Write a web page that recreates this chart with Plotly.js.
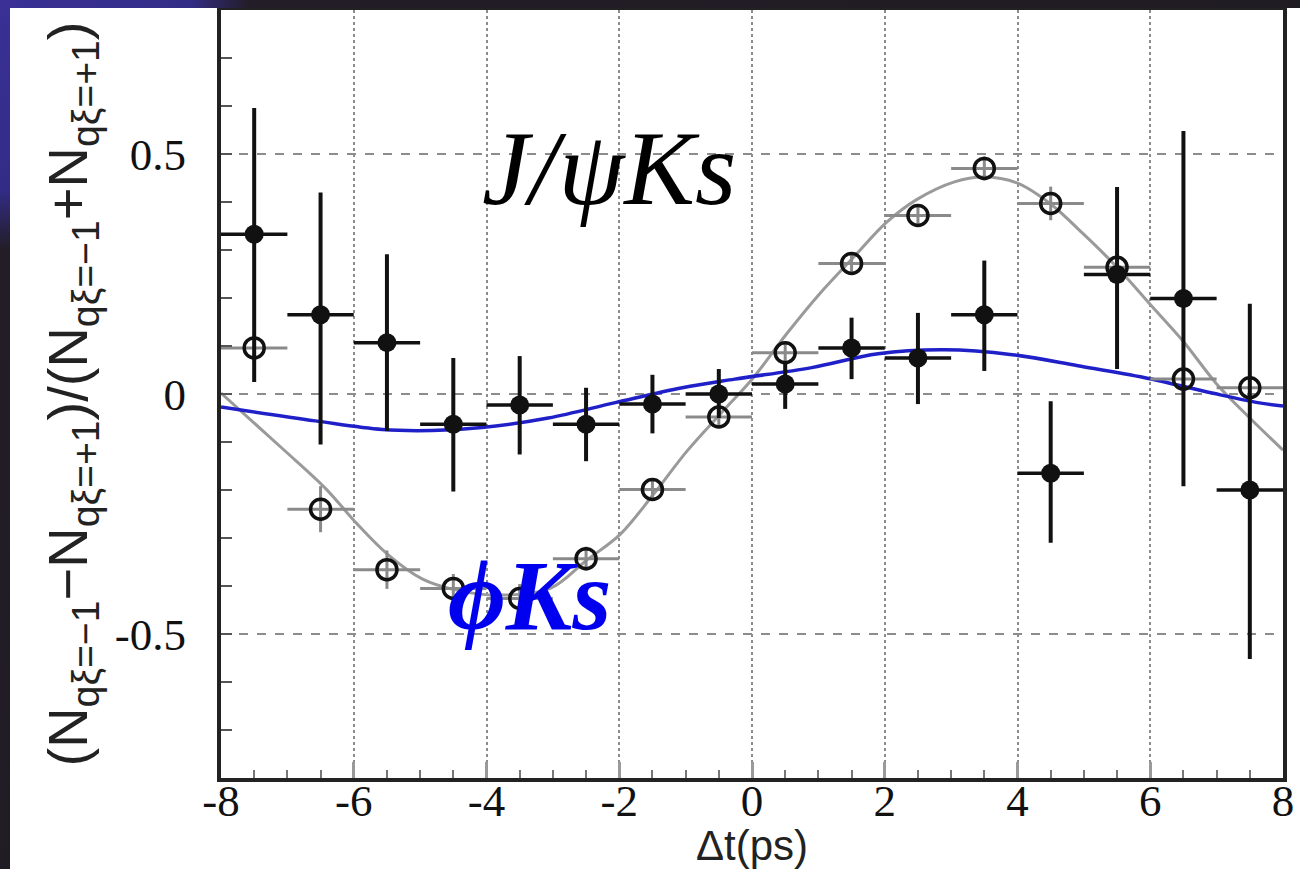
<!DOCTYPE html>
<html>
<head>
<meta charset="utf-8">
<script src="https://cdn.plot.ly/plotly-3.0.1.min.js"></script>
<style>
  html, body { margin:0; padding:0; width:1300px; height:869px; overflow:hidden;
    background: radial-gradient(circle at 0 0, #3a3096 0px, #332c86 190px, #221d26 250px, #1f1b22 100%); }
  #chart { position:absolute; left:10px; top:8px; width:1290px; height:861px; background:#fff; }
</style>
</head>
<body>
<div id="chart"></div>
<script>
// bin centres (Δt, ps)
const binX = [-7.5,-6.5,-5.5,-4.5,-3.5,-2.5,-1.5,-0.5,0.5,1.5,2.5,3.5,4.5,5.5,6.5,7.5];
const binHalfWidth = [0.5,0.5,0.5,0.5,0.5,0.5,0.5,0.5,0.5,0.5,0.5,0.5,0.5,0.5,0.5,0.5];

// φKs (filled points)
const phiY        = [0.333,0.165,0.107,-0.063,-0.023,-0.063,-0.021,0.000,0.021,0.096,0.075,0.165,-0.165,0.249,0.199,-0.200];
const phiErrUp    = [0.263,0.255,0.184,0.138,0.102,0.076,0.061,0.052,0.048,0.063,0.094,0.113,0.150,0.182,0.349,0.388];
const phiErrDown  = [0.308,0.270,0.184,0.140,0.103,0.077,0.061,0.050,0.052,0.065,0.096,0.117,0.145,0.197,0.391,0.352];

// J/ψKs (open points)
const psiY   = [0.096,-0.240,-0.366,-0.405,-0.426,-0.343,-0.199,-0.048,0.086,0.272,0.372,0.470,0.397,0.264,0.031,0.013];
const psiErr = [0.030,0.048,0.040,0.030,0.030,0.025,0.022,0.020,0.020,0.020,0.022,0.025,0.035,0.030,0.030,0.030];

// J/ψKs fit curve (grey)
const psiFitX = [-8,-7.08,-6.43,-5.98,-5.48,-4.97,-4.47,-3.83,-3.04,-2.49,-1.99,-1.49,-0.98,-0.48,0.02,0.52,1.02,1.53,2.03,2.48,3.05,3.48,3.99,4.49,4.98,5.5,5.99,6.49,7.0,7.5,8.0];
const psiFitY = [0.002,-0.113,-0.196,-0.266,-0.335,-0.385,-0.408,-0.419,-0.405,-0.346,-0.293,-0.210,-0.119,-0.042,0.034,0.125,0.209,0.285,0.358,0.405,0.442,0.452,0.440,0.397,0.335,0.264,0.188,0.111,0.021,-0.050,-0.117];

// φKs fit curve (blue)
const phiFitX = [-8,-6.58,-5.57,-4.82,-4.07,-3.07,-2.06,-1.05,-0.26,0.9,1.9,2.9,3.92,4.91,5.92,6.93,7.62,8];
const phiFitY = [-0.027,-0.056,-0.074,-0.076,-0.070,-0.050,-0.018,0.013,0.031,0.055,0.084,0.092,0.082,0.059,0.034,0.002,-0.018,-0.025];

const xTickVals = [-8,-6,-4,-2,0,2,4,6,8];
const xTickText = ['-8','-6','-4','-2','0','2','4','6','8'];
const yTickVals = [-0.5,0,0.5];
const yTickText = ['-0.5','0','0.5'];

const labelPsi = '<i>J/ψKs</i>';
const labelPhi = '<b><i>ϕKs</i></b>';
const yTitle = '(N<sub>qξ=−1</sub>−N<sub>qξ=+1</sub>)/(N<sub>qξ=−1</sub>+N<sub>qξ=+1</sub>)';
const xTitle = 'Δt(ps)';

const traces = [
  { x: psiFitX, y: psiFitY, type:'scatter', mode:'lines',
    line:{color:'#9a9a9a', width:3, shape:'spline', smoothing:1}, hoverinfo:'skip' },
  { x: phiFitX, y: phiFitY, type:'scatter', mode:'lines',
    line:{color:'#2020c8', width:3.5, shape:'spline', smoothing:1}, hoverinfo:'skip' },
  { x: binX, y: psiY, type:'scatter', mode:'markers',
    marker:{symbol:'circle-open', size:20, color:'#111', line:{width:3.5, color:'#111'}},
    error_x:{type:'data', array: binHalfWidth, color:'#8a8a8a', thickness:3, width:0},
    error_y:{type:'data', array: psiErr, color:'#8a8a8a', thickness:3, width:0} },
  { x: binX, y: phiY, type:'scatter', mode:'markers',
    marker:{symbol:'circle', size:19, color:'#111'},
    error_x:{type:'data', array: binHalfWidth, color:'#111', thickness:3.5, width:0},
    error_y:{type:'data', symmetric:false, array: phiErrUp, arrayminus: phiErrDown, color:'#111', thickness:4, width:0} }
];

const layout = {
  width:1290, height:861,
  margin:{l:211, r:17, t:2, b:91},
  paper_bgcolor:'#ffffff', plot_bgcolor:'#ffffff',
  showlegend:false,
  xaxis:{
    range:[-8,8], tickvals:xTickVals, ticktext:xTickText,
    ticks:'inside', ticklen:16, tickwidth:3, tickcolor:'#9a9a9a',
    minor:{dtick:0.5, ticks:'inside', ticklen:8, tickwidth:2, tickcolor:'#777', showgrid:false},
    showline:true, linecolor:'#222', linewidth:4, mirror:true,
    showgrid:true, gridcolor:'#8c8c8c', gridwidth:2, griddash:'dot',
    zeroline:false,
    ticklabelstandoff:-20,
    tickfont:{family:'Liberation Serif, serif', size:45, color:'#111'},
    title:{text:xTitle, font:{family:'Liberation Sans, Arial, sans-serif', size:42, color:'#222'}, standoff:4}
  },
  yaxis:{
    range:[-0.8,0.8], tickvals:yTickVals, ticktext:yTickText,
    ticks:'inside', ticklen:11, tickwidth:2, tickcolor:'#555',
    minor:{dtick:0.1, ticks:'inside', ticklen:11, tickwidth:2, tickcolor:'#555', showgrid:false},
    showline:true, linecolor:'#222', linewidth:4, mirror:true,
    showgrid:true, gridcolor:'#8c8c8c', gridwidth:1.5, griddash:'dash',
    zeroline:false,
    ticklabelstandoff:22,
    tickfont:{family:'Liberation Serif, serif', size:45, color:'#111'},
    title:{text:yTitle, font:{family:'Liberation Sans, Arial, sans-serif', size:56, color:'#222'}, standoff:10}
  },
  annotations:[
    { x:-2.15, y:0.47, xref:'x', yref:'y', text:labelPsi, showarrow:false,
      font:{family:'Liberation Serif, serif', size:106, color:'#000'} },
    { x:-3.35, y:-0.42, xref:'x', yref:'y', text:labelPhi, showarrow:false,
      font:{family:'Liberation Serif, serif', size:100, color:'#0000ee'} }
  ]
};

Plotly.newPlot('chart', traces, layout, {staticPlot:true, displayModeBar:false});
</script>
</body>
</html>
